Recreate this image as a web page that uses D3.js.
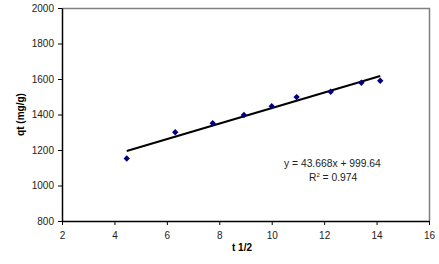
<!DOCTYPE html>
<html>
<head>
<meta charset="utf-8">
<script src="https://cdn.jsdelivr.net/npm/d3@7"></script>
<style>
  body { margin: 0; background: #fff; }
  text { font-family: "Liberation Sans", Arial, sans-serif; }
</style>
</head>
<body>
<div id="chart"></div>
<script>
// sqrt(t) values and measured uptake
const tHalf = [4.47, 6.32, 7.75, 8.94, 10.0, 10.95, 12.25, 13.42, 14.14];
const qt = [1152, 1300, 1351, 1397, 1447, 1498, 1528, 1579, 1590];
const xTicks = [2, 4, 6, 8, 10, 12, 14, 16];
const yTicks = [800, 1000, 1200, 1400, 1600, 1800, 2000];
const slope = 43.668, intercept = 999.64;

const W = 439, H = 264;
const margin = {top: 8, right: 10, bottom: 43, left: 62};
const width = W - margin.left - margin.right;
const height = H - margin.top - margin.bottom;

const svg = d3.select("#chart").append("svg")
    .attr("width", W)
    .attr("height", H);
const g = svg.append("g")
    .attr("transform", "translate(" + margin.left + "," + margin.top + ")");

const x = d3.scaleLinear().domain([2, 16]).range([0, width]);
const y = d3.scaleLinear().domain([800, 2000]).range([height, 0]);

// gray frame on top / right
g.append("path")
    .attr("d", "M0,0.5H" + (width + 0.5) + "V" + height)
    .attr("fill", "none")
    .attr("stroke", "#808080")
    .attr("stroke-width", 1.5);

const xAxis = g.append("g")
    .attr("transform", "translate(0," + height + ")")
    .call(d3.axisBottom(x).tickValues(xTicks).tickFormat(d3.format("d"))
      .tickSize(4).tickSizeOuter(0).tickPadding(7));
const yAxis = g.append("g")
    .call(d3.axisLeft(y).tickValues(yTicks).tickFormat(d3.format("d"))
      .tickSize(4).tickSizeOuter(0).tickPadding(4));

[xAxis, yAxis].forEach(a => {
  a.select(".domain").attr("stroke", "#000").attr("stroke-width", 1.5);
  a.selectAll(".tick line").attr("stroke", "#000");
  a.selectAll("text")
    .attr("font-family", "'Liberation Sans', Arial, sans-serif")
    .attr("font-size", 10)
    .attr("fill", "#222");
});

// trend line
const xs = d3.extent(tHalf);
g.append("line")
    .attr("x1", x(xs[0])).attr("y1", y(slope * xs[0] + intercept))
    .attr("x2", x(xs[1])).attr("y2", y(slope * xs[1] + intercept))
    .attr("stroke", "#000")
    .attr("stroke-width", 2);

// diamond markers
const diamond = d3.symbol().type(d3.symbolDiamond2).size(26);
g.selectAll(".pt")
    .data(tHalf.map((d, i) => [d, qt[i]]))
    .enter()
    .append("path")
    .attr("class", "pt")
    .attr("d", diamond)
    .attr("transform", d => "translate(" + x(d[0]) + "," + y(d[1]) + ")")
    .attr("fill", "#000080");

// equation
g.append("text")
    .attr("x", x(10.47))
    .attr("y", y(1106))
    .attr("font-size", 10.3)
    .attr("fill", "#222")
    .text("y = 43.668x + 999.64");
const r2 = g.append("text")
    .attr("x", x(11.42))
    .attr("y", y(1026))
    .attr("font-size", 10.3)
    .attr("fill", "#222");
r2.append("tspan").text("R");
r2.append("tspan").attr("font-size", 6).attr("dy", -4).text("2");
r2.append("tspan").attr("dy", 4).text(" = 0.974");

// axis titles
svg.append("text")
    .attr("x", 242)
    .attr("y", 251)
    .attr("text-anchor", "middle")
    .attr("font-size", 10)
    .attr("font-weight", "bold")
    .text("t 1/2");
svg.append("text")
    .attr("transform", "translate(24," + (margin.top + height / 2) + ") rotate(-90)")
    .attr("text-anchor", "middle")
    .attr("font-size", 10)
    .attr("font-weight", "bold")
    .text("qt (mg/g)");
</script>
</body>
</html>
